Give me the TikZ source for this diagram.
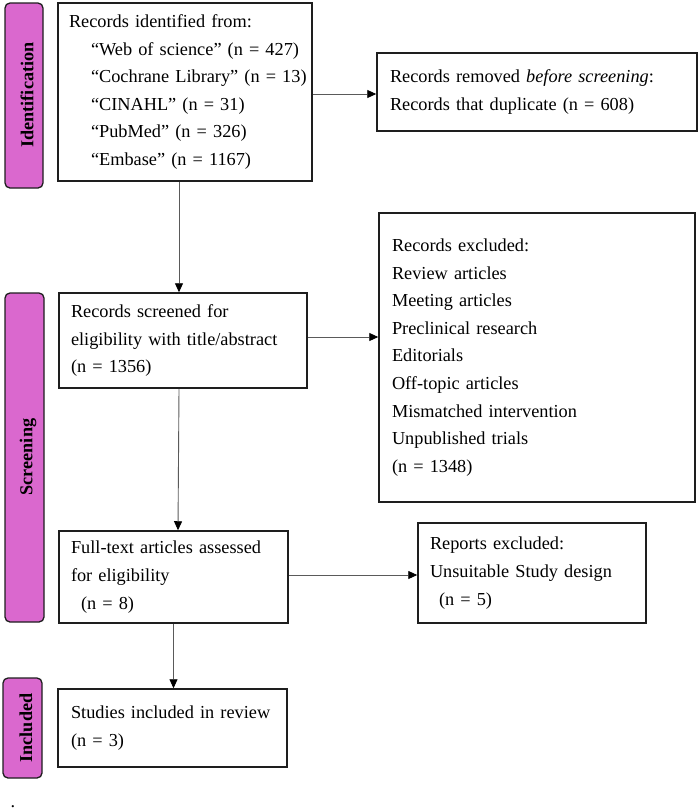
\documentclass[tikz,border=0pt]{standalone}
\usepackage{fontspec}
\setmainfont{Liberation Serif}
\usetikzlibrary{arrows.meta,calc}
\definecolor{sidepink}{RGB}{218,104,206}
\definecolor{linegray}{RGB}{90,90,90}
\definecolor{boxblack}{RGB}{30,30,30}
\tikzset{
  txt/.style={font=\fontsize{18.3}{27.6}\selectfont},
  mainbox/.style={draw=boxblack, line width=1.5pt, txt, align=left, inner ysep=0pt, anchor=center},
  sidebox/.style={draw=boxblack, line width=1.3pt, fill=sidepink, rounded corners=5pt},
  sidelabel/.style={font=\fontsize{18.2}{22}\selectfont\bfseries, rotate=90, inner sep=0pt},
  flow/.style={draw=linegray, line width=0.9pt, -{Triangle[length=9pt,width=8pt,fill=black,color=black]}}
}
\begin{document}
\begin{tikzpicture}[x=1pt,y=-1pt]
\useasboundingbox (0,0) rectangle (699,812);

% side panels
\draw[sidebox] (5,3) rectangle (43,188);
\node[sidelabel] (lid) at (27,95) {Identification};
\draw[sidebox] (5,293) rectangle (44,622);
\node[sidelabel] (lsc) at (28,457) {Screening};
\draw[sidebox] (3,678) rectangle (42,778);
\node[sidelabel] (lin) at (26,728) {Included};

% boxes
\node[mainbox, minimum height=178pt, text width=232pt, inner xsep=11pt] (B1) at (185,92)
{Records identified from:\\
\hspace*{22pt}\mbox{``Web of science'' (n = 427)}\\
\hspace*{22pt}\mbox{``Cochrane Library'' (n = 13)}\\
\hspace*{22pt}\mbox{``CINAHL'' (n = 31)}\\
\hspace*{22pt}\mbox{``PubMed'' (n = 326)}\\
\hspace*{22pt}\mbox{``Embase'' (n = 1167)}};

\node[mainbox, minimum height=78pt, text width=294pt, inner xsep=13pt] (B2) at (537,92)
{Records removed \textit{before screening}:\\
Records that duplicate (n = 608)};

\node[mainbox, minimum height=95pt, text width=224pt, inner xsep=12pt] (B3) at (183,340.5)
{Records screened for\\
eligibility with title/abstract\\
(n = 1356)};

\node[mainbox, minimum height=289pt, text width=290pt, inner xsep=13pt] (B4) at (537,357.5)
{Records excluded:\\
Review articles\\
Meeting articles\\
Preclinical research\\
Editorials\\
Off-topic articles\\
Mismatched intervention\\
Unpublished trials\\
(n = 1348)};

\node[mainbox, minimum height=92pt, text width=205pt, inner xsep=12pt] (B5) at (173.5,577)
{Full-text articles assessed\\
for eligibility\\
\hspace*{10pt}(n = 8)};

\node[mainbox, minimum height=100pt, text width=204pt, inner xsep=12pt] (B6) at (532,573)
{Reports excluded:\\
Unsuitable Study design\\
\hspace*{9pt}(n = 5)};

\node[mainbox, minimum height=78pt, text width=203pt, inner xsep=13pt] (B7) at (172.5,728)
{Studies included in review\\
(n = 3)};

\node[txt, inner sep=0pt, anchor=base] (dot) at (13,807) {.};

% connectors
\draw[flow] ([yshift=-2pt]B1.east) -- ([yshift=-2pt]B1.east -| B2.west);
\draw[flow] ([xshift=-6pt]B1.south) -- ([xshift=-4pt]B3.north);
\draw[flow] ([yshift=3.5pt]B3.east) -- ([yshift=3.5pt]B3.east -| B4.west);
\draw[flow] ([xshift=-4pt]B3.south) -- ([xshift=4.5pt]B5.north);
\draw[flow] ([yshift=2pt]B5.east) -- ([yshift=2pt]B5.east -| B6.west);
\draw[flow] (B5.south) -- (B5.south |- B7.north);
\end{tikzpicture}
\end{document}
